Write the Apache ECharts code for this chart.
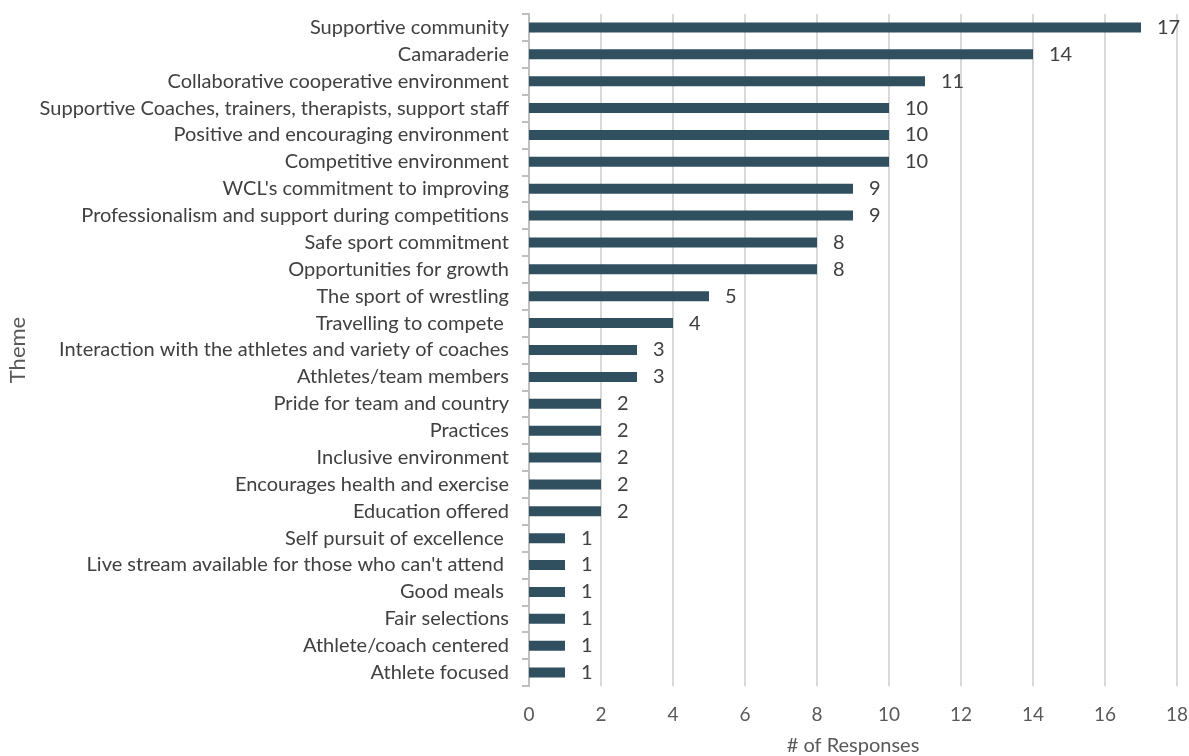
<!DOCTYPE html>
<html>
<head>
<meta charset="utf-8">
<style>
  html, body { margin: 0; padding: 0; background: #ffffff; }
  #chart { width: 1189px; height: 756px; }
</style>
<script src="https://cdn.jsdelivr.net/npm/echarts@6/dist/echarts.min.js"></script>
</head>
<body>
<div id="chart"></div>
<script>
// Themes listed bottom-to-top (ECharts draws the first category at the bottom)
const themes = [
  "Athlete focused",
  "Athlete/coach centered",
  "Fair selections",
  "Good meals ",
  "Live stream available for those who can't attend ",
  "Self pursuit of excellence ",
  "Education offered",
  "Encourages health and exercise",
  "Inclusive environment",
  "Practices",
  "Pride for team and country",
  "Athletes/team members",
  "Interaction with the athletes and variety of coaches",
  "Travelling to compete ",
  "The sport of wrestling",
  "Opportunities for growth",
  "Safe sport commitment",
  "Professionalism and support during competitions",
  "WCL's commitment to improving",
  "Competitive environment",
  "Positive and encouraging environment",
  "Supportive Coaches, trainers, therapists, support staff",
  "Collaborative cooperative environment",
  "Camaraderie",
  "Supportive community"
];
const responses = [1, 1, 1, 1, 1, 1, 2, 2, 2, 2, 2, 3, 3, 4, 5, 8, 8, 9, 9, 10, 10, 10, 11, 14, 17];
const xTicks = { min: 0, max: 18, interval: 2 };

const FONT = "Lato, 'Open Sans', sans-serif";
const chart = echarts.init(document.getElementById('chart'), null, { renderer: 'canvas' });

chart.setOption({
  animation: false,
  grid: { left: 529, right: 12, top: 14, bottom: 70, containLabel: false, outerBoundsMode: 'none' },
  xAxis: {
    type: 'value',
    min: xTicks.min,
    max: xTicks.max,
    interval: xTicks.interval,
    name: '# of Responses',
    nameLocation: 'middle',
    nameGap: 50,
    nameTextStyle: { fontFamily: FONT, fontSize: 20, color: '#595959' },
    axisLine: { show: false },
    axisTick: { show: false },
    axisLabel: { fontFamily: FONT, fontSize: 19, color: '#595959', margin: 19 },
    splitLine: { show: true, lineStyle: { color: '#d9d9d9', width: 2 } }
  },
  yAxis: {
    type: 'category',
    data: themes,
    name: 'Theme',
    nameLocation: 'middle',
    nameGap: 500,
    nameRotate: 90,
    nameTextStyle: { fontFamily: FONT, fontSize: 22, color: '#595959' },
    axisLine: { show: true, lineStyle: { color: '#bfbfbf', width: 2 } },
    axisTick: { show: true, length: 7, alignWithLabel: false, lineStyle: { color: '#bfbfbf', width: 2 } },
    axisLabel: { fontFamily: FONT, fontSize: 20, color: '#404040', margin: 20 }
  },
  series: [{
    type: 'bar',
    data: responses,
    barWidth: 10,
    itemStyle: { color: '#31505f' },
    label: {
      show: true,
      position: 'right',
      distance: 16,
      fontFamily: FONT,
      fontSize: 20,
      color: '#404040'
    }
  }]
});
</script>
</body>
</html>
